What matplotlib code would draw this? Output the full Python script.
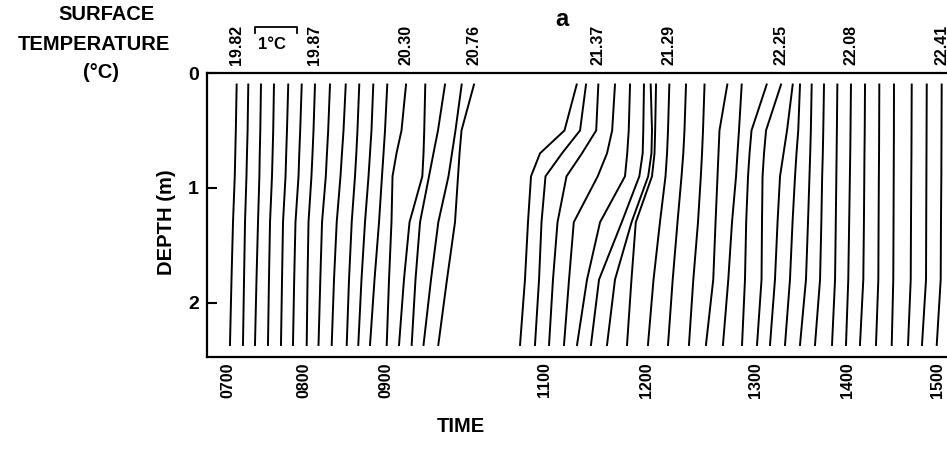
import numpy as np
import matplotlib
matplotlib.use('Agg')
import matplotlib.pyplot as plt
import matplotlib.transforms as mtransforms

plt.rcParams['font.family'] = ['Liberation Sans', 'DejaVu Sans']
plt.rcParams['font.weight'] = 'bold'

# depth (m) at which every profile is sampled
depths = [0.1, 0.5, 0.7, 0.9, 1.3, 1.8, 2.37]

# x-position of each profile (clock hours) at the depths above
profiles = [
    # morning series, 0700 - 1000
    [7.114, 7.103, 7.096, 7.089, 7.066, 7.046, 7.026],
    [7.267, 7.258, 7.250, 7.243, 7.224, 7.211, 7.197],
    [7.434, 7.425, 7.418, 7.413, 7.395, 7.375, 7.355],
    [7.605, 7.595, 7.587, 7.579, 7.553, 7.539, 7.526],
    [7.793, 7.776, 7.766, 7.757, 7.724, 7.711, 7.697],
    [7.970, 7.950, 7.938, 7.928, 7.888, 7.871, 7.855],
    [8.134, 8.116, 8.104, 8.091, 8.055, 8.043, 8.033],
    [8.317, 8.295, 8.280, 8.266, 8.220, 8.199, 8.177],
    [8.509, 8.482, 8.463, 8.445, 8.399, 8.366, 8.338],
    [8.674, 8.652, 8.638, 8.622, 8.582, 8.549, 8.521],
    [8.845, 8.823, 8.805, 8.787, 8.744, 8.701, 8.662],
    [9.016, 8.988, 8.970, 8.951, 8.915, 8.860, 8.805],
    [9.252, 9.195, 9.132, 9.082, 9.069, 9.038, 9.009],
    [9.494, 9.481, 9.472, 9.457, 9.296, 9.226, 9.164],
    [9.742, 9.654, 9.597, 9.541, 9.428, 9.371, 9.323],
    [9.952, 9.874, 9.830, 9.786, 9.658, 9.566, 9.472],
    [10.107, 9.950, 9.925, 9.906, 9.868, 9.767, 9.658],
    # midday series, 1100 - 1500
    [11.314, 11.193, 10.937, 10.824, 10.786, 10.748, 10.686],
    [11.406, 11.347, 11.168, 11.005, 10.956, 10.925, 10.874],
    [11.528, 11.507, 11.366, 11.213, 11.124, 11.079, 11.040],
    [11.693, 11.665, 11.614, 11.522, 11.285, 11.238, 11.188],
    [11.842, 11.829, 11.814, 11.792, 11.545, 11.416, 11.317],
    [11.980, 11.973, 11.967, 11.934, 11.760, 11.535, 11.455],
    [12.043, 12.055, 12.050, 12.020, 11.857, 11.693, 11.614],
    [12.092, 12.084, 12.078, 12.055, 11.899, 11.856, 11.812],
    [12.214, 12.202, 12.193, 12.179, 12.128, 12.069, 12.018],
    [12.367, 12.353, 12.342, 12.326, 12.289, 12.245, 12.202],
    [12.537, 12.523, 12.514, 12.503, 12.477, 12.434, 12.394],
    [12.746, 12.674, 12.665, 12.656, 12.638, 12.617, 12.550],
    [12.878, 12.853, 12.839, 12.826, 12.789, 12.755, 12.706],
    [13.127, 12.968, 12.950, 12.936, 12.919, 12.908, 12.881],
    [13.283, 13.120, 13.098, 13.082, 13.076, 13.071, 13.022],
    [13.410, 13.348, 13.310, 13.272, 13.245, 13.217, 13.163],
    [13.489, 13.470, 13.451, 13.435, 13.408, 13.380, 13.326],
    [13.616, 13.607, 13.600, 13.592, 13.576, 13.554, 13.489],
    [13.750, 13.742, 13.737, 13.730, 13.721, 13.707, 13.652],
    [13.895, 13.890, 13.887, 13.884, 13.878, 13.870, 13.837],
    [14.044, 14.039, 14.036, 14.032, 14.024, 14.014, 13.989],
    [14.200, 14.197, 14.194, 14.192, 14.188, 14.181, 14.144],
    [14.359, 14.357, 14.356, 14.354, 14.351, 14.348, 14.322],
    [14.522, 14.521, 14.520, 14.519, 14.517, 14.514, 14.497],
    [14.719, 14.717, 14.716, 14.714, 14.711, 14.708, 14.678],
    [14.886, 14.884, 14.883, 14.882, 14.880, 14.878, 14.833],
    [15.052, 15.050, 15.049, 15.048, 15.044, 15.041, 14.997],
]

# surface temperatures written above selected profiles
surface_temps = ['19.82', '19.87', '20.30', '20.76', '21.37', '21.29', '22.25', '22.08', '22.41']
surface_profile = [0, 6, 12, 16, 19, 25, 31, 37, 43]

time_ticks = [7, 8, 9, 11, 12, 13, 14, 15]
time_labels = ['0700', '0800', '0900', '1100', '1200', '1300', '1400', '1500']

# time axis of the original is not uniform: hour -> relative distance
scale_hours = [6, 7, 8, 9, 11, 12, 13, 14, 15, 16]
scale_dist = [-76, 0, 76, 158, 317, 418, 527, 619, 709, 799]


def fwd(h):
    return np.interp(h, scale_hours, scale_dist)


def inv(d):
    return np.interp(d, scale_dist, scale_hours)


fig = plt.figure(figsize=(9.47, 4.58), dpi=100)
ax = fig.add_axes([0.2186, 0.2205, 0.7814, 0.620])
ax.set_xscale('function', functions=(fwd, inv))

for xs in profiles:
    ax.plot(xs, depths, color='black', lw=1.4)

ax.set_xlim(6.724, 15.111)
ax.set_ylim(2.475, 0)

ax.set_xticks(time_ticks)
ax.set_xticklabels(time_labels, rotation=90, fontsize=11.5, fontweight='bold')
ax.tick_params(axis='x', length=0, pad=4)
ax.set_yticks([0, 1, 2])
ax.set_yticklabels(['0', '1', '2'], fontsize=14, fontweight='bold')
ax.tick_params(axis='y', direction='in', length=7, width=1.5, pad=6)
ax.xaxis.set_minor_locator(matplotlib.ticker.NullLocator())

for side in ['left', 'top', 'bottom']:
    ax.spines[side].set_linewidth(1.6)
ax.spines['right'].set_visible(False)

trans = mtransforms.blended_transform_factory(ax.transData, ax.transAxes)
for lab, i in zip(surface_temps, surface_profile):
    ax.text(profiles[i][0], 1.03, lab, transform=trans, rotation=90,
            ha='center', va='bottom', fontsize=11.5, fontweight='bold')

# 1 degree C scale bar
bar_x = [7.355, 7.355, 7.908, 7.908]
bar_y = [1.141, 1.162, 1.162, 1.141]
ax.plot(bar_x, bar_y, color='black', lw=1.3, transform=trans, clip_on=False)
ax.text(7.58, 1.10, '1°C', transform=trans, ha='center', va='center',
        fontsize=12, fontweight='bold')

ax.text(0.48, 1.19, 'a', transform=ax.transAxes, ha='center', va='center',
        fontsize=17, fontweight='bold')

fig.text(107 / 947, 1 - 15 / 458, 'SURFACE', ha='center', va='center', fontsize=14.5)
fig.text(94 / 947, 1 - 45 / 458, 'TEMPERATURE', ha='center', va='center', fontsize=14.5)
fig.text(101 / 947, 1 - 72 / 458, '(°C)', ha='center', va='center', fontsize=14.5)

fig.text(461 / 947, 1 - 427 / 458, 'TIME', ha='center', va='center', fontsize=14.5)
fig.text(167 / 947, 1 - 222 / 458, 'DEPTH (m)', ha='center', va='center',
         rotation=90, fontsize=14.5)

fig.savefig('out.png', dpi=100)
